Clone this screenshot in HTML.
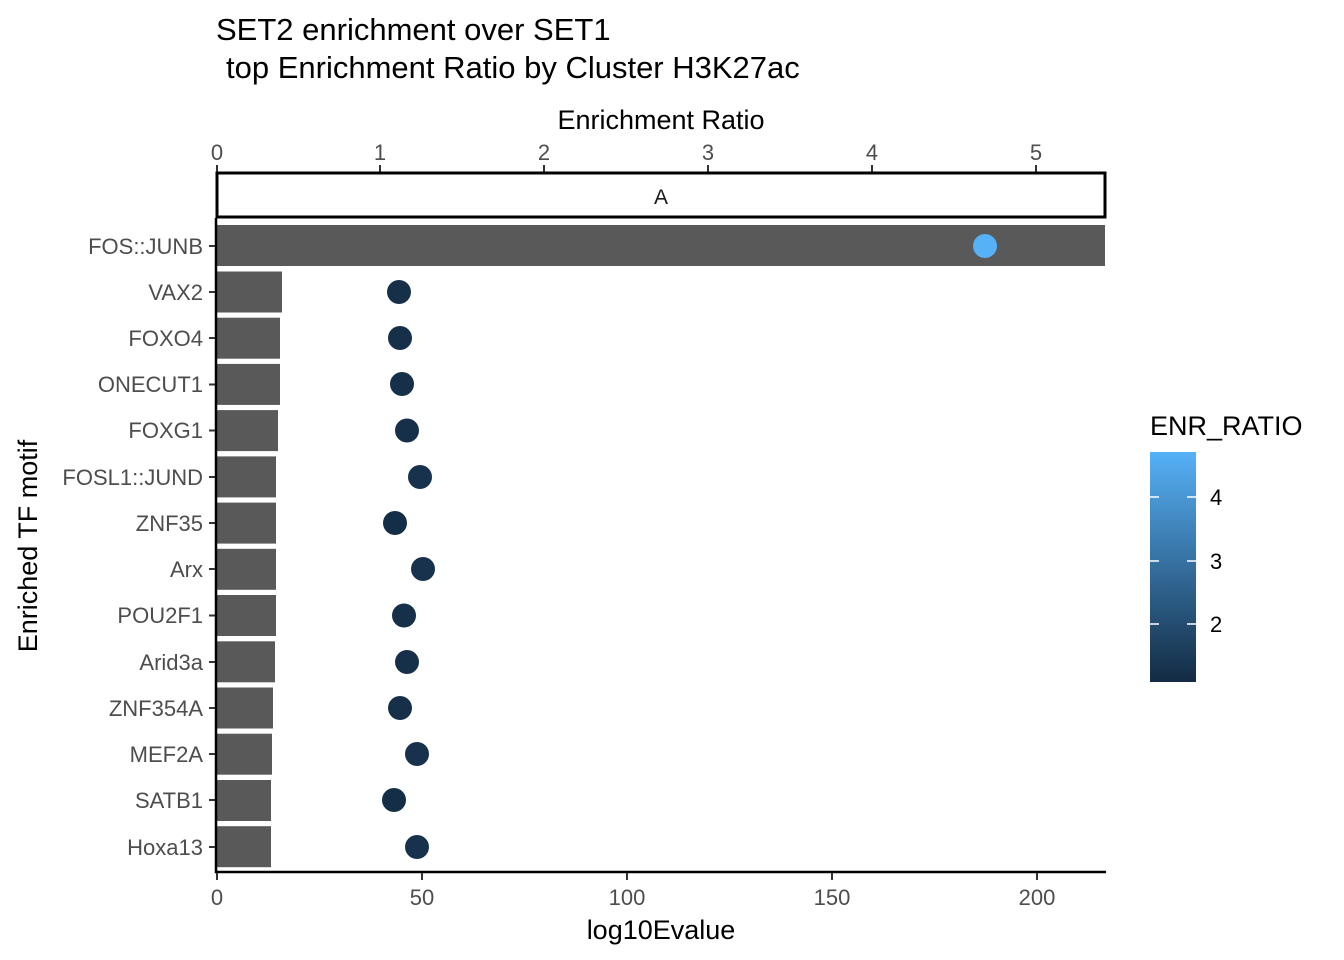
<!DOCTYPE html>
<html><head><style>body{margin:0;background:#fff}svg{display:block}</style></head><body>
<svg width="1344" height="960" xmlns="http://www.w3.org/2000/svg" font-family="Liberation Sans, sans-serif">
<defs><linearGradient id="g" x1="0" y1="1" x2="0" y2="0"><stop offset="0" stop-color="#132B43"/><stop offset="1" stop-color="#56B1F7"/></linearGradient></defs>
<text x="216" y="40" font-size="31" fill="#000">SET2 enrichment over SET1</text>
<text x="226" y="78" font-size="31" fill="#000">top Enrichment Ratio by Cluster H3K27ac</text>
<text x="661" y="129" font-size="27" text-anchor="middle">Enrichment Ratio</text>
<g font-size="22" fill="#4d4d4d" text-anchor="middle">
<text x="217" y="160">0</text><text x="380" y="160">1</text><text x="544" y="160">2</text><text x="708" y="160">3</text><text x="872" y="160">4</text><text x="1036" y="160">5</text>
</g>
<g stroke="#333" stroke-width="2"><line x1="217" y1="165" x2="217" y2="172"/><line x1="380" y1="165" x2="380" y2="172"/><line x1="544" y1="165" x2="544" y2="172"/><line x1="708" y1="165" x2="708" y2="172"/><line x1="872" y1="165" x2="872" y2="172"/><line x1="1036" y1="165" x2="1036" y2="172"/></g>
<rect x="217" y="173" width="888" height="44" fill="#fff" stroke="#000" stroke-width="3"/>
<text x="661" y="204" font-size="21" text-anchor="middle" fill="#1a1a1a">A</text>
<g fill="#595959">
<rect x="217" y="225" width="888" height="41"/>
<rect x="217" y="271.5" width="65" height="41"/>
<rect x="217" y="317.7" width="63" height="41"/>
<rect x="217" y="363.9" width="63" height="41"/>
<rect x="217" y="410.1" width="61" height="41"/>
<rect x="217" y="456.4" width="59" height="41"/>
<rect x="217" y="502.6" width="59" height="41"/>
<rect x="217" y="548.8" width="59" height="41"/>
<rect x="217" y="595" width="59" height="41"/>
<rect x="217" y="641.3" width="58" height="41"/>
<rect x="217" y="687.5" width="56" height="41"/>
<rect x="217" y="733.7" width="55" height="41"/>
<rect x="217" y="780" width="54" height="41"/>
<rect x="217" y="826.2" width="54" height="41"/>
</g>
<g>
<circle cx="985" cy="246" r="12" fill="#56B1F7"/>
<circle cx="399" cy="292" r="12" fill="#17304A"/>
<circle cx="400" cy="338" r="12" fill="#17304A"/>
<circle cx="402" cy="384" r="12" fill="#17304A"/>
<circle cx="407" cy="430.5" r="12" fill="#17304A"/>
<circle cx="420" cy="477" r="12" fill="#18324D"/>
<circle cx="395" cy="523" r="12" fill="#152E47"/>
<circle cx="423" cy="569" r="12" fill="#18324D"/>
<circle cx="404" cy="615.5" r="12" fill="#17304A"/>
<circle cx="407" cy="662" r="12" fill="#17304A"/>
<circle cx="400" cy="708" r="12" fill="#17304A"/>
<circle cx="417" cy="754" r="12" fill="#18324D"/>
<circle cx="394" cy="800" r="12" fill="#152E47"/>
<circle cx="417" cy="847" r="12" fill="#18324D"/>
</g>
<line x1="216" y1="218" x2="216" y2="873" stroke="#000" stroke-width="2.5"/>
<line x1="215" y1="872" x2="1106" y2="872" stroke="#000" stroke-width="2.5"/>
<g stroke="#333" stroke-width="2">
<line x1="209" y1="246" x2="215" y2="246"/><line x1="209" y1="292" x2="215" y2="292"/><line x1="209" y1="338" x2="215" y2="338"/><line x1="209" y1="384.5" x2="215" y2="384.5"/><line x1="209" y1="430.5" x2="215" y2="430.5"/><line x1="209" y1="477" x2="215" y2="477"/><line x1="209" y1="523" x2="215" y2="523"/><line x1="209" y1="569" x2="215" y2="569"/><line x1="209" y1="615.5" x2="215" y2="615.5"/><line x1="209" y1="662" x2="215" y2="662"/><line x1="209" y1="708" x2="215" y2="708"/><line x1="209" y1="754" x2="215" y2="754"/><line x1="209" y1="800" x2="215" y2="800"/><line x1="209" y1="847" x2="215" y2="847"/>
<line x1="217" y1="873" x2="217" y2="880"/><line x1="422" y1="873" x2="422" y2="880"/><line x1="627" y1="873" x2="627" y2="880"/><line x1="832" y1="873" x2="832" y2="880"/><line x1="1037" y1="873" x2="1037" y2="880"/>
</g>
<g font-size="22" fill="#4d4d4d" text-anchor="end">
<text x="203" y="254">FOS::JUNB</text><text x="203" y="300">VAX2</text><text x="203" y="346">FOXO4</text><text x="203" y="392">ONECUT1</text><text x="203" y="438">FOXG1</text><text x="203" y="485">FOSL1::JUND</text><text x="203" y="531">ZNF35</text><text x="203" y="577">Arx</text><text x="203" y="623">POU2F1</text><text x="203" y="670">Arid3a</text><text x="203" y="716">ZNF354A</text><text x="203" y="762">MEF2A</text><text x="203" y="808">SATB1</text><text x="203" y="855">Hoxa13</text>
</g>
<g font-size="22" fill="#4d4d4d" text-anchor="middle">
<text x="217" y="905">0</text><text x="422" y="905">50</text><text x="627" y="905">100</text><text x="832" y="905">150</text><text x="1037" y="905">200</text>
</g>
<text x="661" y="939" font-size="27" text-anchor="middle">log10Evalue</text>
<text transform="translate(37,546) rotate(-90)" font-size="27" text-anchor="middle">Enriched TF motif</text>
<text x="1150" y="435" font-size="27">ENR_RATIO</text>
<rect x="1150" y="452" width="46" height="230" fill="url(#g)"/>
<g stroke="#fff" stroke-width="1.5"><line x1="1150" y1="497" x2="1159" y2="497"/><line x1="1187" y1="497" x2="1196" y2="497"/><line x1="1150" y1="561" x2="1159" y2="561"/><line x1="1187" y1="561" x2="1196" y2="561"/><line x1="1150" y1="624" x2="1159" y2="624"/><line x1="1187" y1="624" x2="1196" y2="624"/></g>
<g font-size="22" fill="#000"><text x="1210" y="505">4</text><text x="1210" y="569">3</text><text x="1210" y="632">2</text></g>
</svg>
</body></html>
